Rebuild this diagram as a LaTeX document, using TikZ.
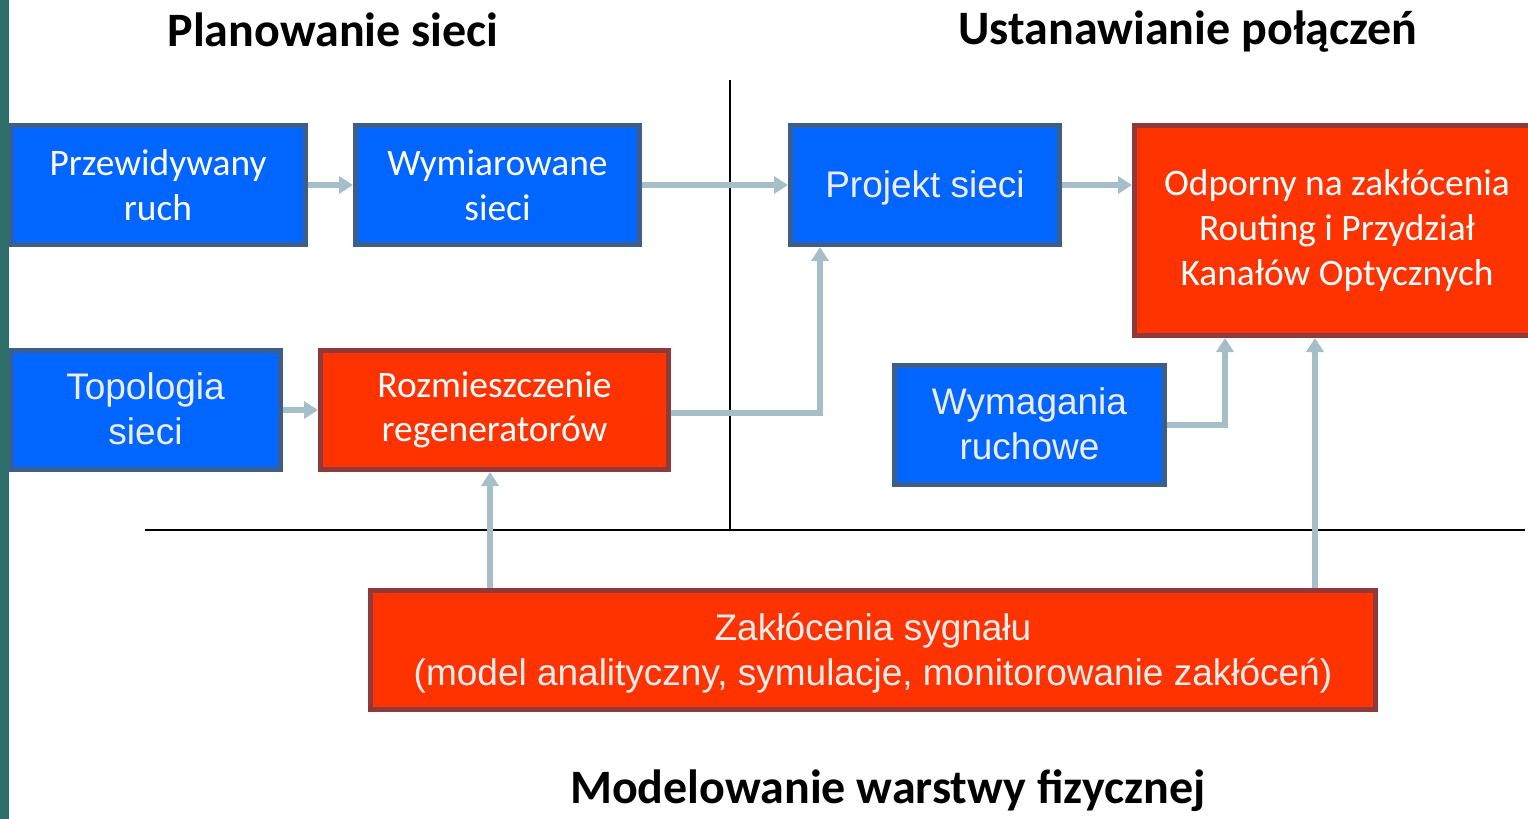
\documentclass[tikz,border=0pt]{standalone}
\usepackage{fontspec}
\setmainfont{Carlito}
\newfontfamily\arialfont{Liberation Sans}
\usetikzlibrary{arrows.meta}
\definecolor{boxblue}{HTML}{0066FF}
\definecolor{blueedge}{HTML}{3B5E8C}
\definecolor{boxred}{HTML}{FF3300}
\definecolor{rededge}{HTML}{8E3A3A}
\definecolor{flow}{HTML}{A6BEC7}
\definecolor{strip}{HTML}{2F6F6A}
\tikzstyle{bluebox}=[draw=blueedge, fill=boxblue, line width=2.5pt, minimum height=59.5pt, align=center, text=white, font=\fontsize{18.7}{22.3}\selectfont]
\tikzstyle{redbox}=[bluebox, draw=rededge, fill=boxred]
\tikzstyle{arialtext}=[text=white!93!black, font=\arialfont\fontsize{18.5}{22.5}\selectfont, inner ysep=4pt, text depth=1pt]
\tikzstyle{flowline}=[draw=flow, line width=3pt, -{Triangle[length=7pt, width=8.5pt]}]
\tikzstyle{divider}=[draw=black, line width=0.8pt]
\tikzstyle{heading}=[font=\bfseries\fontsize{24}{28}\selectfont]

\begin{document}
\begin{tikzpicture}[x=0.5pt, y=-0.5pt]
  \useasboundingbox (0, 0) rectangle (1528, 819);
  \clip (0, 0) rectangle (1528, 819);

  \node[heading] (plan) at (333, 30) {Planowanie sieci};
  \node[heading] (ust) at (1188, 32) {Ustanawianie połączeń};
  \node[heading, anchor=base] (model) at (888, 803) {Modelowanie warstwy fizycznej};

  \draw[divider] (730, 80) -- (730, 530);
  \draw[divider] (145, 530) -- (1525, 530);

  \node[bluebox, minimum width=147.5pt] (prz) at (158, 185) {Przewidywany\\ruch};
  \node[bluebox, minimum width=142pt] (wym) at (497.5, 185) {Wymiarowane\\sieci};
  \node[bluebox, arialtext, minimum width=134.5pt] (proj) at (925, 185) {Projekt sieci};
  \node[redbox, minimum width=202.5pt, minimum height=105pt] (odp) at (1337, 230.5)
    {Odporny na zakłócenia\\Routing i Przydział\\Kanałów Optycznych};
  \node[bluebox, arialtext, minimum width=135pt] (topo) at (145.5, 410) {Topologia\\sieci};
  \node[redbox, minimum width=174pt] (rozm) at (494.5, 410) {Rozmieszczenie\\regeneratorów};
  \node[bluebox, arialtext, minimum width=135pt] (wymag) at (1029.5, 425) {Wymagania\\ruchowe};
  \node[redbox, arialtext, minimum width=502.5pt] (zak) at (873, 650)
    {Zakłócenia sygnału\\(model analityczny, symulacje, monitorowanie zakłóceń)};

  \coordinate (projin) at (820, 247);
  \coordinate (rozmin) at (490, 472);
  \coordinate (odpin1) at (1225, 338);
  \coordinate (odpin2) at (1315, 338);

  \draw[flowline] (prz) -- (wym);
  \draw[flowline] (wym) -- (proj);
  \draw[flowline] (proj.east) -- (proj.east -| odp.west);
  \draw[flowline] (topo) -- (rozm);
  \draw[flowline] ([yshift=-1.5pt]rozm.east) -| (projin);
  \draw[flowline] (wymag.east) -| (odpin1);
  \draw[flowline] (rozmin |- zak.north) -- (rozmin);
  \draw[flowline] (odpin2 |- zak.north) -- (odpin2);

  % left edge of the screen
  \fill[strip] (0, 0) rectangle (9, 819);
\end{tikzpicture}
\end{document}
